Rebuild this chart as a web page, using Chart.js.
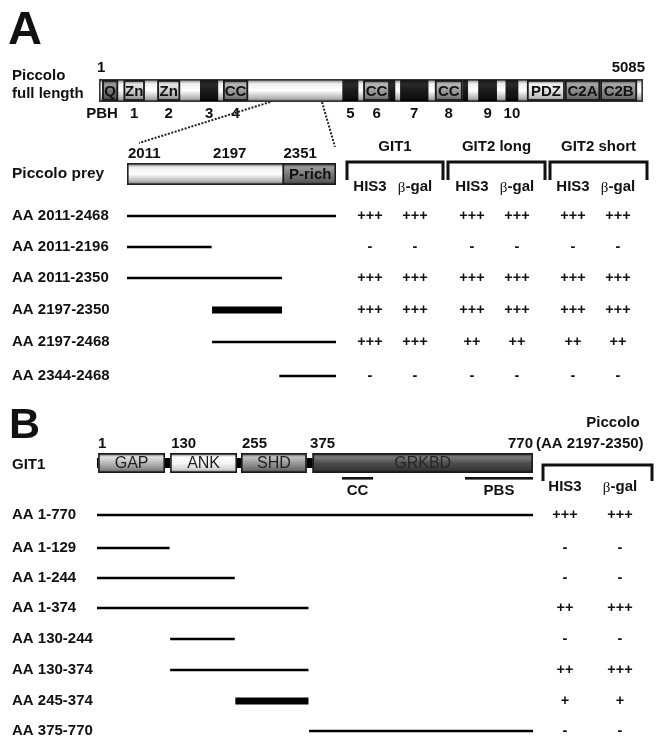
<!DOCTYPE html>
<html><head><meta charset="utf-8">
<script src="https://cdn.jsdelivr.net/npm/chart.js@4.4.1/dist/chart.umd.min.js"></script>
<style>html,body{margin:0;padding:0;background:#fff}#wrap{position:relative;width:657px;height:739px}</style>
</head><body><div id="wrap"><canvas id="c" width="657" height="739"></canvas></div>
<script>
// ================= DATA =================
// Panel A – Piccolo full length (domain positions estimated from the schematic, AA units)
const fullRange = [1, 5085];
const fullDomainNames = ["Q", "Zn", "Zn", "", "CC", "", "CC", "", "", "CC", "", "", "", "PDZ", "C2A", "C2B"];
const fullDomainStart = [30, 230, 545, 945, 1160, 2275, 2470, 2720, 2815, 3140, 3400, 3545, 3800, 4000, 4355, 4685];
const fullDomainEnd   = [180, 430, 760, 1115, 1395, 2425, 2720, 2770, 3080, 3400, 3450, 3720, 3920, 4355, 4685, 5030];
const fullDomainKind  = ["q", "zn", "zn", "blk", "cc", "blk", "cc", "blk", "blk", "cc", "blk", "blk", "blk", "pdz", "c2", "c2"];
const pbhLabels = ["1", "2", "3", "4", "5", "6", "7", "8", "9", "10"];
const pbhDomainIndex = [1, 2, 3, 4, 5, 6, 8, 9, 11, 12];
const zoomRegionOnFull = [1600, 2085];

// Panel A – Piccolo prey constructs
const preyRange = [2011, 2468];
const preyRichStart = 2351;
const preyTicks = [2011, 2197, 2351];
const preyStart = [2011, 2011, 2011, 2197, 2197, 2344];
const preyEnd   = [2468, 2196, 2350, 2350, 2468, 2468];
const preyMinimal = [false, false, false, true, false, false];
const baitNames = ["GIT1", "GIT2 long", "GIT2 short"];
const git1His3  = ["+++", "-", "+++", "+++", "+++", "-"];
const git1Bgal  = ["+++", "-", "+++", "+++", "+++", "-"];
const git2lHis3 = ["+++", "-", "+++", "+++", "++", "-"];
const git2lBgal = ["+++", "-", "+++", "+++", "++", "-"];
const git2sHis3 = ["+++", "-", "+++", "+++", "++", "-"];
const git2sBgal = ["+++", "-", "+++", "+++", "++", "-"];

// Panel B – GIT1
const gitRange = [1, 770];
const gitTicks = [1, 130, 255, 375];
const gitDomainNames = ["GAP", "ANK", "SHD", "GRKBD"];
const gitDomainStart = [3, 130, 255, 381];
const gitDomainEnd   = [121, 248, 371, 770];
const gitSubNames = ["CC", "PBS"];
const gitSubStart = [433, 650];
const gitSubEnd   = [488, 770];
const gitStart = [1, 1, 1, 1, 130, 130, 245, 375];
const gitEnd   = [770, 129, 244, 374, 244, 374, 374, 770];
const gitMinimal = [false, false, false, false, false, false, true, false];
const gitHis3 = ["+++", "-", "-", "++", "-", "++", "+", "-"];
const gitBgal = ["+++", "-", "-", "+++", "-", "+++", "+", "-"];

// ================= LAYOUT =================
const W = 657, H = 739;
const SANS = '"Liberation Sans", Arial, Helvetica, sans-serif';
const L = {
  fullBar: [79, 102], fullPx: [99, 643],
  preyBar: [163, 185], preyPx: [127, 336],
  preyRows: [216, 247, 278, 310, 342, 376],
  brackets: [[347, 443], [448, 545], [550, 647]], bracketY: [162, 180],
  valCols: [[370, 415], [472, 517], [573, 618]],
  gitBar: [453, 473], gitPx: [97, 533],
  gitRows: [515, 548, 578, 608, 639, 670, 701, 731],
  gitBracket: [543, 652], gitBracketY: [465, 481], gitValCols: [565, 620]
};
function fit(v1, p1, v2, p2) { const b = (p2 - p1) / (v2 - v1); return { min: v1 - p1 / b, max: v1 + (W - p1) / b }; }
const sFull = fit(fullRange[0], L.fullPx[0], fullRange[1], L.fullPx[1]);
const sPrey = fit(preyRange[0], L.preyPx[0], preyRange[1], L.preyPx[1]);
const sGit  = fit(gitRange[0], L.gitPx[0], gitRange[1], L.gitPx[1]);

const datasets = [];
preyStart.forEach((s, i) => datasets.push({
  data: [{ x: s, y: L.preyRows[i] }, { x: preyEnd[i], y: L.preyRows[i] }],
  xAxisID: 'xPrey', yAxisID: 'y', showLine: true, pointRadius: 0,
  borderColor: '#000', borderWidth: preyMinimal[i] ? 7 : 2.6, borderCapStyle: 'butt'
}));
gitStart.forEach((s, i) => datasets.push({
  data: [{ x: s, y: L.gitRows[i] }, { x: gitEnd[i], y: L.gitRows[i] }],
  xAxisID: 'xGit', yAxisID: 'y', showLine: true, pointRadius: 0,
  borderColor: '#000', borderWidth: gitMinimal[i] ? 7 : 2.6, borderCapStyle: 'butt'
}));

const KIND = {
  bar:  ['#6a6a6a', '#eeeeee', '#ffffff', '#b0b0b0', '#5a5a5a'],
  q:    ['#3a3a3a', '#9a9a9a', '#7a7a7a', '#5a5a5a', '#2a2a2a'],
  zn:   ['#6a6a6a', '#e6e6e6', '#d0d0d0', '#a0a0a0', '#4a4a4a'],
  cc:   ['#4a4a4a', '#b8b8b8', '#9c9c9c', '#7a7a7a', '#3a3a3a'],
  blk:  ['#151515', '#2a2a2a', '#1a1a1a', '#111', '#000'],
  pdz:  ['#6a6a6a', '#f2f2f2', '#e2e2e2', '#bcbcbc', '#5a5a5a'],
  c2:   ['#4a4a4a', '#a8a8a8', '#8c8c8c', '#6e6e6e', '#3a3a3a'],
  prich:['#3a3a3a', '#9a9a9a', '#7a7a7a', '#5a5a5a', '#2e2e2e'],
  gap:  ['#4a4a4a', '#e4e4e4', '#b8b8b8', '#858585', '#3a3a3a'],
  ank:  ['#5a5a5a', '#ffffff', '#f6f6f6', '#cdcdcd', '#4a4a4a'],
  shd:  ['#3a3a3a', '#c4c4c4', '#999999', '#6c6c6c', '#2e2e2e'],
  grk:  ['#222222', '#7c7c7c', '#4e4e4e', '#363636', '#161616']
};
function tube(ctx, x1, y1, x2, y2, kind, stroke, lw) {
  const c = KIND[kind];
  const g = ctx.createLinearGradient(0, y1, 0, y2);
  g.addColorStop(0, c[0]); g.addColorStop(0.2, c[1]); g.addColorStop(0.5, c[2]); g.addColorStop(0.85, c[3]); g.addColorStop(1, c[4]);
  ctx.fillStyle = g; ctx.fillRect(x1, y1, x2 - x1, y2 - y1);
  if (stroke) { const w = lw || 1.4; ctx.strokeStyle = stroke; ctx.lineWidth = w; ctx.strokeRect(x1 + w / 2, y1 + w / 2, x2 - x1 - w, y2 - y1 - w); }
}
function txt(ctx, s, x, y, font, align, color) {
  ctx.font = font; ctx.textAlign = align || 'left'; ctx.textBaseline = 'middle'; ctx.fillStyle = color || '#111';
  ctx.fillText(s, x, y);
}
function bgal(ctx, cx, y, size) {
  const f1 = size + 'px "Liberation Serif", "DejaVu Serif", serif';
  const f2 = 'bold ' + size + 'px ' + SANS;
  ctx.font = f1; const w1 = ctx.measureText('β').width;
  ctx.font = f2; const w2 = ctx.measureText('-gal').width;
  const x0 = cx - (w1 + w2) / 2;
  txt(ctx, 'β', x0, y + 1, f1, 'left');
  txt(ctx, '-gal', x0 + w1, y, f2, 'left');
}
function bracket(ctx, x1, x2, yTop, yBot) {
  ctx.strokeStyle = '#111'; ctx.lineWidth = 3; ctx.lineJoin = 'miter';
  ctx.beginPath(); ctx.moveTo(x1, yBot); ctx.lineTo(x1, yTop); ctx.lineTo(x2, yTop); ctx.lineTo(x2, yBot); ctx.stroke();
}

const schematic = {
  id: 'schematic',
  beforeDatasetsDraw(chart) {
    const ctx = chart.ctx, sc = chart.scales;
    const xF = v => sc.xFull.getPixelForValue(v), xP = v => sc.xPrey.getPixelForValue(v), xG = v => sc.xGit.getPixelForValue(v);
    const yy = v => sc.y.getPixelForValue(v);
    ctx.save();
    const B15 = 'bold 15px ' + SANS, B14 = 'bold 14.5px ' + SANS;
    // ----- Panel A -----
    txt(ctx, 'A', 8, 31, 'bold 47px ' + SANS);
    txt(ctx, 'Piccolo', 12, yy(76), B15);
    txt(ctx, 'full length', 12, yy(94), B15);
    txt(ctx, String(fullRange[0]), xF(fullRange[0]) - 2, yy(68), B15);
    txt(ctx, String(fullRange[1]), xF(fullRange[1]) + 2, yy(68), B15, 'right');
    const fb = L.fullBar.map(yy);
    tube(ctx, xF(fullRange[0]), fb[0], xF(fullRange[1]), fb[1], 'bar', '#333', 1.6);
    fullDomainStart.forEach((s, i) => {
      const k = fullDomainKind[i];
      tube(ctx, xF(s), fb[0] + 1, xF(fullDomainEnd[i]), fb[1] - 1, k, k === 'blk' ? null : '#1a1a1a', 1.8);
      if (fullDomainNames[i]) txt(ctx, fullDomainNames[i], (xF(s) + xF(fullDomainEnd[i])) / 2, (fb[0] + fb[1]) / 2 + 1, 'bold 15px ' + SANS, 'center', '#111');
    });
    txt(ctx, 'PBH', 102, yy(114), B15, 'center');
    pbhLabels.forEach((lab, i) => {
      const d = pbhDomainIndex[i];
      txt(ctx, lab, (xF(fullDomainStart[d]) + xF(fullDomainEnd[d])) / 2, yy(114), B15, 'center');
    });
    // dotted zoom lines
    const pb = L.preyBar.map(yy);
    ctx.strokeStyle = '#222'; ctx.lineWidth = 2; ctx.setLineDash([2, 1.5]);
    ctx.beginPath();
    ctx.moveTo(xF(zoomRegionOnFull[0]), fb[1]); ctx.lineTo(xP(preyRange[0]) + 12, yy(143));
    ctx.moveTo(xF(zoomRegionOnFull[1]), fb[1]); ctx.lineTo(xP(preyRange[1]) - 1, yy(147));
    ctx.stroke(); ctx.setLineDash([]);
    // prey bar
    txt(ctx, 'Piccolo prey', 12, (pb[0] + pb[1]) / 2, 'bold 15.5px ' + SANS);
    tube(ctx, xP(preyRange[0]), pb[0], xP(preyRange[1]), pb[1], 'bar', '#222', 1.6);
    tube(ctx, xP(preyRichStart), pb[0], xP(preyRange[1]), pb[1], 'prich', '#1a1a1a', 1.6);
    txt(ctx, 'P-rich', (xP(preyRichStart) + xP(preyRange[1])) / 2 + 1, (pb[0] + pb[1]) / 2 + 1, 'bold 15px ' + SANS, 'center', '#111');
    preyTicks.forEach(t => txt(ctx, String(t), xP(t) + 1, yy(154), B15));
    // brackets + headers
    L.brackets.forEach((b, i) => {
      bracket(ctx, b[0], b[1], yy(L.bracketY[0]), yy(L.bracketY[1]));
      txt(ctx, baitNames[i], (b[0] + b[1]) / 2, yy(147), B15, 'center');
      txt(ctx, 'HIS3', L.valCols[i][0], yy(187), B15, 'center');
      bgal(ctx, L.valCols[i][1], yy(187), 15);
    });
    const colsA = [[git1His3, git1Bgal], [git2lHis3, git2lBgal], [git2sHis3, git2sBgal]];
    L.preyRows.forEach((ry, r) => {
      txt(ctx, 'AA ' + preyStart[r] + '-' + preyEnd[r], 12, yy(ry), B15);
      colsA.forEach((pair, i) => {
        txt(ctx, pair[0][r], L.valCols[i][0], yy(ry), B14, 'center');
        txt(ctx, pair[1][r], L.valCols[i][1], yy(ry), B14, 'center');
      });
    });
    // ----- Panel B -----
    txt(ctx, 'B', 9, 426, 'bold 43px ' + SANS);
    txt(ctx, 'GIT1', 12, yy(465), B15);
    const gb = L.gitBar.map(yy);
    ctx.fillStyle = '#000'; ctx.fillRect(xG(gitRange[0]), (gb[0] + gb[1]) / 2 - 5, xG(gitRange[1]) - xG(gitRange[0]), 10);
    const gk = ['gap', 'ank', 'shd', 'grk'];
    gitDomainStart.forEach((s, i) => {
      tube(ctx, xG(s), gb[0], xG(gitDomainEnd[i]), gb[1], gk[i], '#1a1a1a', 1.6);
      txt(ctx, gitDomainNames[i], (xG(s) + xG(gitDomainEnd[i])) / 2, (gb[0] + gb[1]) / 2 + 1, '16px ' + SANS, 'center', i === 3 ? '#262626' : '#1e1e1e');
    });
    gitTicks.forEach(t => txt(ctx, String(t), xG(t) + 1, yy(444), B15));
    txt(ctx, String(gitRange[1]), xG(gitRange[1]), yy(444), B15, 'right');
    txt(ctx, '(AA 2197-2350)', xG(gitRange[1]) + 3, yy(444), B15);
    txt(ctx, 'Piccolo', 613, yy(423), B15, 'center');
    gitSubStart.forEach((s, i) => {
      ctx.fillStyle = '#111'; ctx.fillRect(xG(s), yy(477), xG(gitSubEnd[i]) - xG(s), 2.6);
      txt(ctx, gitSubNames[i], (xG(s) + xG(gitSubEnd[i])) / 2, yy(491), B15, 'center');
    });
    bracket(ctx, L.gitBracket[0], L.gitBracket[1], yy(L.gitBracketY[0]), yy(L.gitBracketY[1]));
    txt(ctx, 'HIS3', L.gitValCols[0], yy(487), B15, 'center');
    bgal(ctx, L.gitValCols[1], yy(487), 15);
    L.gitRows.forEach((ry, r) => {
      txt(ctx, 'AA ' + gitStart[r] + '-' + gitEnd[r], 12, yy(ry), B15);
      txt(ctx, gitHis3[r], L.gitValCols[0], yy(ry), B14, 'center');
      txt(ctx, gitBgal[r], L.gitValCols[1], yy(ry), B14, 'center');
    });
    ctx.restore();
  }
};

new Chart(document.getElementById('c'), {
  type: 'scatter',
  data: { datasets },
  options: {
    responsive: false, animation: false, devicePixelRatio: 1,
    layout: { padding: 0 },
    plugins: { legend: { display: false }, tooltip: { enabled: false } },
    scales: {
      xFull: { type: 'linear', display: false, min: sFull.min, max: sFull.max },
      xPrey: { type: 'linear', display: false, min: sPrey.min, max: sPrey.max },
      xGit:  { type: 'linear', display: false, min: sGit.min,  max: sGit.max },
      y:     { type: 'linear', display: false, min: 0, max: H, reverse: true }
    }
  },
  plugins: [schematic]
});
</script>
</body></html>
